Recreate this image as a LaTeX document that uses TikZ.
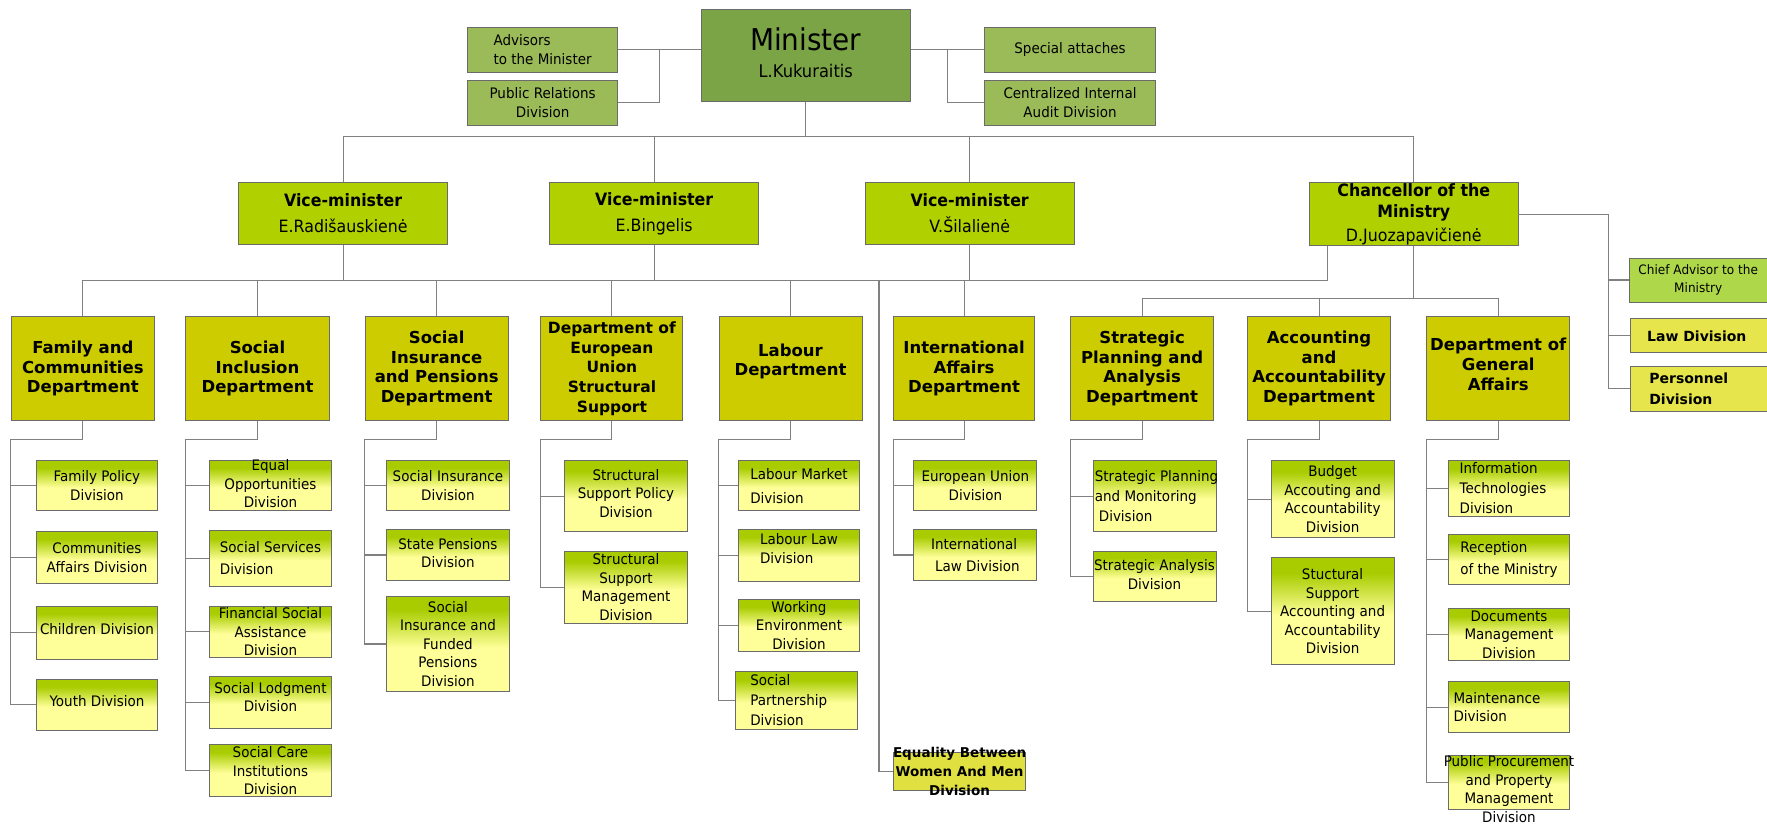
\documentclass[tikz,border=0pt]{standalone}
\usepackage{fontspec}
\setmainfont{DejaVu Sans}
\newfontfamily\dvc{DejaVu Sans}[FakeStretch=0.93]
\usetikzlibrary{fit,calc}
\definecolor{minc}{HTML}{7BA447}
\definecolor{sidec}{HTML}{9BBB59}
\definecolor{vmc}{HTML}{B0D000}
\definecolor{depc}{HTML}{CCCC00}
\definecolor{chiefc}{HTML}{AED84A}
\definecolor{lawc}{HTML}{E6E64C}
\definecolor{eqc}{HTML}{E0E040}
\definecolor{divlo}{HTML}{FFFF99}
\definecolor{divhi}{HTML}{A8CC00}
\definecolor{bdcol}{HTML}{6B6B6B}
\definecolor{lncol}{HTML}{808080}
\pgfdeclareverticalshading{divshade}{100bp}{color(0bp)=(divlo); color(25bp)=(divlo); color(48bp)=(divlo); color(68bp)=(divhi); color(75bp)=(divhi); color(100bp)=(divhi)}
\newcommand\obox[8]{%
  \node[#2, fit={(#3,#4) (#5,#6)}] (#1) {};
  \node[#7] (#1-t) at (#1.center) {#8};}
\tikzset{
  ln/.style={draw=lncol, line width=1.1pt},
  bx/.style={draw=bdcol, line width=0.9pt, inner sep=0pt, rectangle},
  minbox/.style={bx, fill=minc},
  sidebox/.style={bx, fill=sidec},
  vmbox/.style={bx, fill=vmc},
  depbox/.style={bx, fill=depc},
  divbox/.style={bx, shade, shading=divshade},
  chiefbox/.style={bx, fill=chiefc},
  lawbox/.style={bx, fill=lawc},
  eqbox/.style={bx, fill=eqc},
  dt/.style={align=center, inner sep=0pt, font=\dvc\fontsize{14.5}{18.5}\selectfont},
  dtl/.style={dt, align=left},
  dep/.style={align=center, inner sep=0pt, font=\bfseries\fontsize{16.5}{19.7}\selectfont},
  vmt/.style={align=center, inner sep=0pt, font=\dvc\fontsize{17}{26}\selectfont},
}
\begin{document}
\begin{tikzpicture}[x=1.127pt,y=-1.127pt]
\clip (0,0) rectangle (1568,733);
\fill[white] (0,0) rectangle (1568,733);

% ---------- top level ----------
\obox{min}{minbox}{622}{8}{808}{90}{align=center,inner sep=0pt,font=\dvc\fontsize{17.5}{27}\selectfont,yshift=2pt}{{\fontsize{30}{34}\selectfont Minister}\\L.Kukuraitis}
\obox{adv}{sidebox}{415}{24}{548}{64}{dtl}{Advisors\\to the Minister}
\obox{pr}{sidebox}{415}{71}{548}{111}{dt}{Public Relations\\Division}
\obox{spat}{sidebox}{874}{24}{1025}{64}{dt}{Special attaches}
\obox{cia}{sidebox}{874}{71}{1025}{111}{dt}{Centralized Internal\\Audit Division}

\obox{vm1}{vmbox}{212}{162}{397}{217}{vmt}{{\bfseries Vice-minister}\\E.Radišauskienė}
\obox{vm2}{vmbox}{488}{162}{673}{217}{vmt}{{\bfseries Vice-minister}\\E.Bingelis}
\obox{vm3}{vmbox}{768}{162}{953}{217}{vmt}{{\bfseries Vice-minister}\\V.Šilalienė}
\obox{ch}{vmbox}{1162}{162}{1347}{218}{align=center,inner sep=0pt,font=\dvc\fontsize{17}{21.5}\selectfont}{{\bfseries Chancellor of the}\\{\bfseries Ministry}\\[2pt]D.Juozapavičienė}

\obox{chief}{chiefbox}{1446}{229}{1575}{268}{align=center,inner sep=0pt,font=\dvc\fontsize{13}{17.5}\selectfont,xshift=-4pt}{Chief Advisor to the\\Ministry}
\obox{law}{lawbox}{1447}{283}{1575}{313}{align=left,inner sep=0pt,font=\bfseries\fontsize{14}{20}\selectfont,xshift=-6pt}{Law Division}
\obox{pers}{lawbox}{1447}{325}{1575}{365}{align=left,inner sep=0pt,font=\bfseries\fontsize{14}{21}\selectfont,xshift=-14pt}{Personnel\\Division}

% ---------- departments ----------
\obox{fam}{depbox}{10}{281}{137}{373}{dep}{Family and\\Communities\\Department}
\obox{sid}{depbox}{165}{281}{292}{373}{dep}{Social\\Inclusion\\Department}
\obox{sip}{depbox}{324}{281}{451}{373}{dep}{Social\\Insurance\\and Pensions\\Department}
\obox{eus}{depbox}{480}{281}{606}{373}{dep,font=\bfseries\fontsize{15.5}{19.7}\selectfont}{Department of\\European\\Union\\Structural\\Support}
\obox{lab}{depbox}{638}{281}{765}{373}{dep,yshift=7pt}{Labour\\Department}
\obox{iad}{depbox}{793}{281}{918}{373}{dep}{International\\Affairs\\Department}
\obox{stp}{depbox}{950}{281}{1077}{373}{dep}{Strategic\\Planning and\\Analysis\\Department}
\obox{acc}{depbox}{1107}{281}{1234}{373}{dep}{Accounting\\and\\Accountability\\Department}
\obox{gen}{depbox}{1266}{281}{1393}{373}{dep,yshift=4pt}{Department of\\General\\Affairs}

% ---------- divisions ----------
\obox{fpd}{divbox}{32}{409}{140}{453}{dt}{Family Policy\\Division}
\obox{cad}{divbox}{32}{472}{140}{518}{dt}{Communities\\Affairs Division}
\obox{chd}{divbox}{32}{538}{140}{585}{dt,yshift=4pt}{Children Division}
\obox{yd}{divbox}{32}{603}{140}{648}{dt,yshift=4pt}{Youth Division}

\obox{eod}{divbox}{186}{409}{294}{453}{dt,yshift=2pt}{Equal\\Opportunities\\Division}
\obox{ssd}{divbox}{186}{471}{294}{520}{dtl,font=\dvc\fontsize{14.5}{22}\selectfont}{Social Services\\Division}
\obox{fsa}{divbox}{186}{538}{294}{583}{dt}{Financial Social\\Assistance\\Division}
\obox{sld}{divbox}{186}{600}{294}{646}{dt,yshift=5pt}{Social Lodgment\\Division}
\obox{sci}{divbox}{186}{661}{294}{707}{dt}{Social Care\\Institutions\\Division}

\obox{sind}{divbox}{343}{409}{452}{453}{dt}{Social Insurance\\Division}
\obox{stpd}{divbox}{343}{470}{452}{515}{dt,yshift=2pt}{State Pensions\\Division}
\obox{sifp}{divbox}{343}{529}{452}{614}{dt}{Social\\Insurance and\\Funded\\Pensions\\Division}

\obox{sspd}{divbox}{501}{409}{610}{472}{dt,yshift=3pt}{Structural\\Support Policy\\Division}
\obox{ssmd}{divbox}{501}{489}{610}{553}{dt}{Structural\\Support\\Management\\Division}

\obox{lmd}{divbox}{655}{409}{763}{453}{dtl,font=\dvc\fontsize{14.5}{24}\selectfont}{Labour Market\\Division}
\obox{lld}{divbox}{655}{470}{763}{516}{dtl,yshift=7pt}{Labour Law\\Division}
\obox{wed}{divbox}{655}{532}{763}{578}{dt}{Working\\Environment\\Division}
\obox{sptd}{divbox}{653}{596}{761}{647}{dtl,xshift=-8pt,font=\dvc\fontsize{14.5}{20}\selectfont}{Social\\Partnership\\Division}

\obox{eud}{divbox}{811}{409}{920}{453}{dt}{European Union\\Division}
\obox{ild}{divbox}{811}{470}{920}{515}{dtl,font=\dvc\fontsize{14.5}{22}\selectfont}{International\\\hspace{4pt}Law Division}

\obox{eqd}{eqbox}{793}{668}{910}{701}{align=center,inner sep=0pt,font=\bfseries\fontsize{13.5}{19}\selectfont}{Equality Between\\Women And Men\\Division}

\obox{spmd}{divbox}{970}{409}{1079}{472}{dtl,xshift=2pt,font=\dvc\fontsize{14.5}{20}\selectfont}{Strategic Planning\\and Monitoring\\\hspace{4pt}Division}
\obox{sad}{divbox}{970}{489}{1079}{534}{dt,yshift=2pt}{Strategic Analysis\\Division}

\obox{bad}{divbox}{1128}{409}{1237}{477}{dt}{Budget\\Accouting and\\Accountability\\Division}
\obox{ssaad}{divbox}{1128}{495}{1237}{590}{dt}{Stuctural\\Support\\Accounting and\\Accountability\\Division}

\obox{itd}{divbox}{1285}{409}{1393}{458}{dtl,xshift=-6pt,font=\dvc\fontsize{14.5}{20}\selectfont}{Information\\Technologies\\Division}
\obox{rmd}{divbox}{1285}{474}{1393}{519}{dtl,font=\dvc\fontsize{14.5}{22}\selectfont}{Reception\\of the Ministry}
\obox{dmd}{divbox}{1285}{540}{1393}{586}{dt}{Documents\\Management\\Division}
\obox{mad}{divbox}{1285}{605}{1393}{650}{dtl,xshift=-12pt}{Maintenance\\Division}
\obox{ppd}{divbox}{1285}{670}{1393}{718}{dt,yshift=-7pt}{Public Procurement\\and Property\\Management\\Division}

% ---------- connectors: top ----------
\coordinate (advj) at ($(adv.east)!0.5!(min.west |- adv.east)$);
\draw[ln] (adv.east) -- (min.west |- adv.east);
\draw[ln] (pr.east) -| (advj);
\coordinate (spj) at ($(spat.west)!0.5!(min.east |- spat.west)$);
\draw[ln] (min.east |- spat.west) -- (spat.west);
\draw[ln] (cia.west) -| (spj);

\coordinate (bus1) at (0,121);
\draw[ln] (min.south) -- (min.south |- bus1);
\draw[ln] (vm1.north) |- (bus1 -| ch.north) -- (ch.north);
\draw[ln] (vm2.north) -- (vm2.north |- bus1);
\draw[ln] (vm3.north) -- (vm3.north |- bus1);

% second level bus
\coordinate (bus2) at (0,249);
\coordinate (chl) at ($(ch.south west)+(16,0)$);
\draw[ln] (fam.north) |- (bus2 -| chl) -- (chl);
\foreach \n in {vm1,vm2,vm3}{\draw[ln] (\n.south) -- (\n.south |- bus2);}
\foreach \n in {sid,sip,eus,lab,iad}{\draw[ln] (\n.north) -- (\n.north |- bus2);}
\coordinate (eqtop) at (780,249);
\draw[ln] (eqtop) |- (eqd.west);

% chancellor bus
\coordinate (bus3) at (0,265);
\draw[ln] (ch.south) -- (ch.south |- bus3);
\draw[ln] (stp.north) |- (bus3 -| gen.north) -- (gen.north);
\draw[ln] (acc.north) -- (acc.north |- bus3);

% chancellor right side
\coordinate (rx) at (1427,0);
\draw[ln] (ch.east) -| (rx |- pers.west) -- (pers.west);
\draw[ln] (chief.west) -- (chief.west -| rx);
\draw[ln] (law.west) -- (law.west -| rx);

% ---------- department to divisions ----------
\foreach \d/\last/\others in {fam/yd/{fpd,cad,chd}, sid/sci/{eod,ssd,fsa,sld}, sip/sifp/{sind,stpd}, eus/ssmd/{sspd}, lab/sptd/{lmd,lld,wed}, iad/ild/{eud}, stp/sad/{spmd}, acc/ssaad/{bad}, gen/ppd/{itd,rmd,dmd,mad}}{
  \coordinate (\d-sp) at ($(\d.south west)+(0,17)$);
  \draw[ln] (\d.south) |- (\d-sp) |- (\last.west);
  \foreach \b in \others {\draw[ln] (\b.west) -- (\b.west -| \d-sp);}
}
\end{tikzpicture}
\end{document}
